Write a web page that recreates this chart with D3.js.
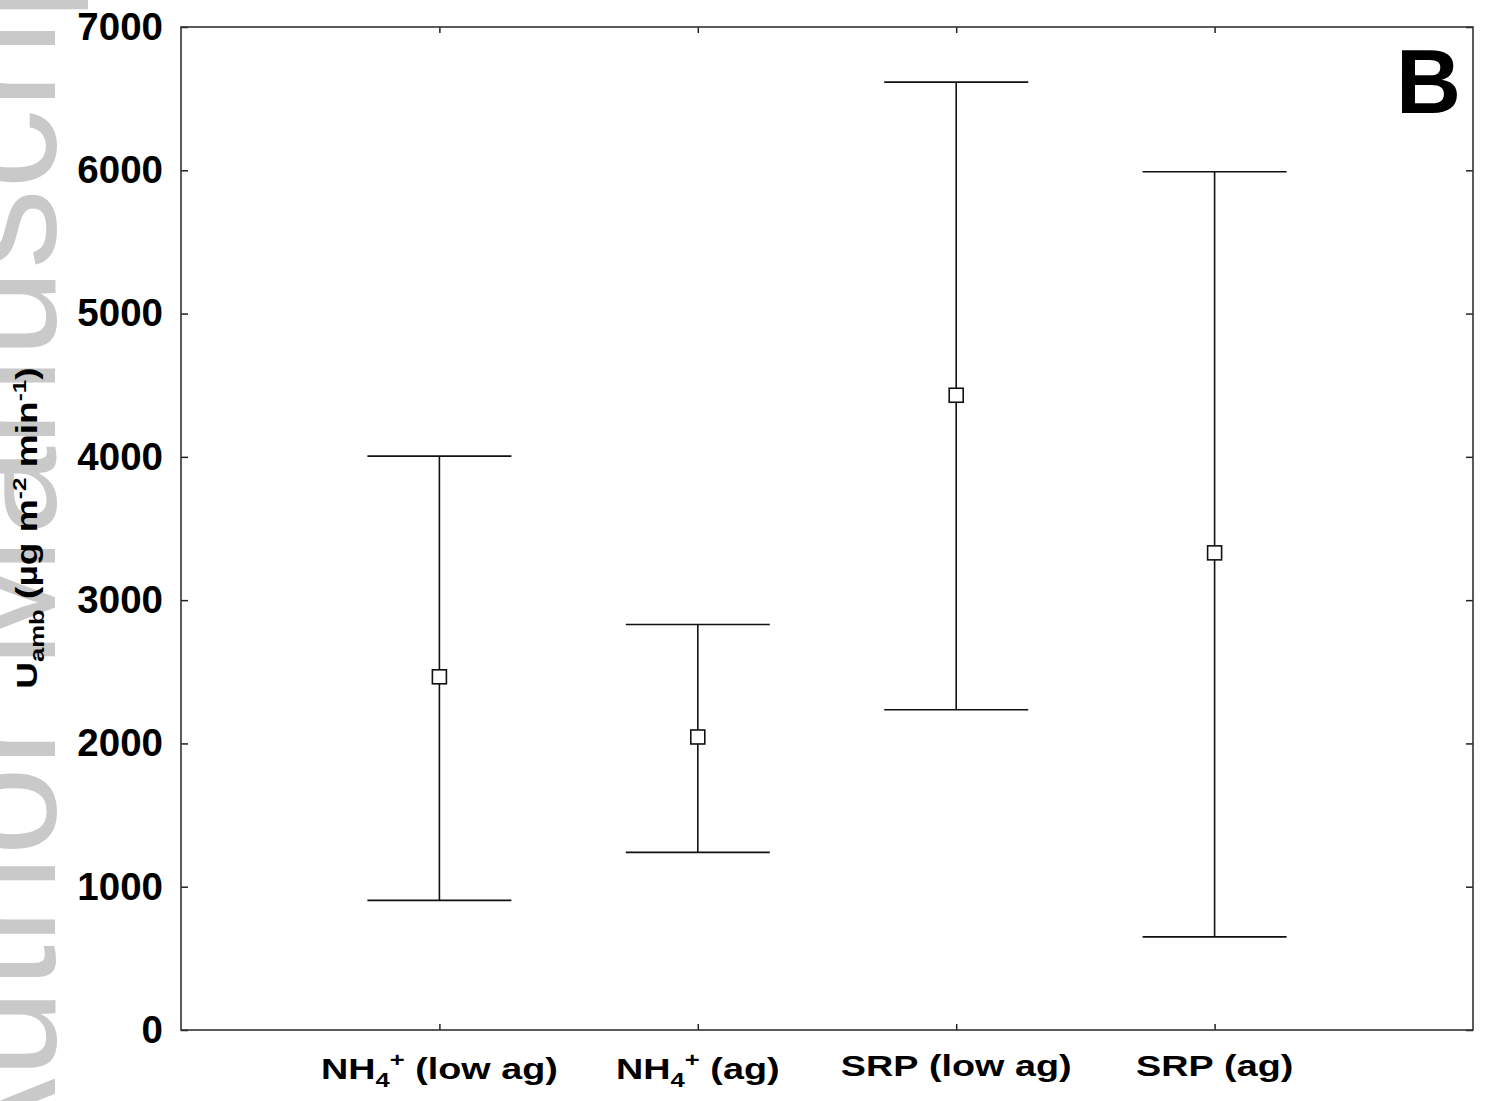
<!DOCTYPE html>
<html>
<head>
<meta charset="utf-8">
<script src="https://cdn.jsdelivr.net/npm/d3@7"></script>
<style>
  body { margin: 0; background: #fff; }
  svg { display: block; font-family: "Liberation Sans", Arial, sans-serif; }
</style>
</head>
<body>
<script>
// categories and their label pieces (base, subscript, superscript, rest)
var categories = ["NH4+ (low ag)", "NH4+ (ag)", "SRP (low ag)", "SRP (ag)"];
var labelBase = ["NH", "NH", "SRP", "SRP"];
var labelSub = ["4", "4", "", ""];
var labelSup = ["+", "+", "", ""];
var labelRest = [" (low ag)", " (ag)", " (low ag)", " (ag)"];

// means and error bar ends
var means = [2465, 2045, 4430, 3330];
var upper = [4005, 2830, 6615, 5990];
var lower = [905, 1240, 2235, 650];

var yTicks = [0, 1000, 2000, 3000, 4000, 5000, 6000, 7000];

var W = 1485, H = 1101;
// plot box (note: "top" is taken by window.top)
var padL = 181, padR = 1473, padT = 27, padB = 1030;

var svg = d3.select("body").append("svg")
    .attr("width", W)
    .attr("height", H);

// faint watermark on the left edge
svg.append("text")
    .attr("transform", "translate(55,1185) rotate(-90)")
    .attr("font-size", 160)
    .attr("fill", "#c9c9c9")
    .text("Author Manuscript");

var x = d3.scalePoint()
    .domain(categories)
    .range([padL, padR])
    .padding(1);

var y = d3.scaleLinear()
    .domain([0, 7000])
    .range([padB, padT]);

// left axis with labels, ticks pointing in
var gl = svg.append("g")
    .attr("transform", "translate(" + padL + ",0)")
    .call(d3.axisLeft(y).tickValues(yTicks).tickSize(-7).tickPadding(18).tickFormat(d3.format("d")));
gl.selectAll("text")
    .attr("font-size", 38.5)
    .attr("font-weight", "bold")
    .attr("fill", "#000")
    .attr("font-family", "Liberation Sans, Arial, sans-serif");

svg.append("g")
    .attr("transform", "translate(" + padR + ",0)")
    .call(d3.axisRight(y).tickValues(yTicks).tickSize(-7).tickFormat(""));

svg.append("g")
    .attr("transform", "translate(0," + padB + ")")
    .call(d3.axisBottom(x).tickSize(-6).tickFormat(""));

svg.append("g")
    .attr("transform", "translate(0," + padT + ")")
    .call(d3.axisTop(x).tickSize(-6).tickFormat(""));

svg.selectAll(".domain").remove();
svg.selectAll(".tick line").attr("stroke", "#222").attr("stroke-width", 1.5);

// frame
svg.append("rect")
    .attr("x", padL)
    .attr("y", padT)
    .attr("width", padR - padL)
    .attr("height", padB - padT)
    .attr("fill", "none")
    .attr("stroke", "#333")
    .attr("stroke-width", 1.6);

// category labels
categories.forEach(function(c, i) {
  var t = svg.append("text")
      .attr("transform", "translate(" + x(c) + "," + (labelSub[i] ? 1079 : 1076) + ") scale(1.28,1)")
      .attr("text-anchor", "middle")
      .attr("font-size", 29.5)
      .attr("font-weight", "bold")
      .attr("fill", "#000");
  t.append("tspan").text(labelBase[i]);
  if (labelSub[i]) {
    t.append("tspan").attr("font-size", 20).attr("dy", 8).text(labelSub[i]);
    t.append("tspan").attr("font-size", 20).attr("dy", -20).text(labelSup[i]);
    t.append("tspan").attr("dy", 12).text(labelRest[i]);
  } else {
    t.append("tspan").text(labelRest[i]);
  }
});

// y title
var yt = svg.append("text")
    .attr("transform", "translate(37,528) rotate(-90) scale(1.28,1)")
    .attr("text-anchor", "middle")
    .attr("font-size", 29)
    .attr("font-weight", "bold")
    .attr("fill", "#000");
yt.append("tspan").text("U");
yt.append("tspan").attr("font-size", 20).attr("dy", 7).text("amb");
yt.append("tspan").attr("dy", -7).text(" (µg m");
yt.append("tspan").attr("font-size", 19).attr("dy", -11).text("-2");
yt.append("tspan").attr("dy", 11).text(" min");
yt.append("tspan").attr("font-size", 19).attr("dy", -11).text("-1");
yt.append("tspan").attr("dy", 11).text(")");

// panel letter
svg.append("text")
    .attr("x", 1396)
    .attr("y", 113)
    .attr("font-size", 90)
    .attr("font-weight", "bold")
    .attr("fill", "#000")
    .text("B");

// error bars
var cap = 72;
var bars = svg.append("g").attr("stroke", "#111").attr("stroke-width", 1.6);
categories.forEach(function(c, i) {
  bars.append("line")
      .attr("x1", x(c)).attr("x2", x(c))
      .attr("y1", y(upper[i])).attr("y2", y(lower[i]));
  bars.append("line")
      .attr("x1", x(c) - cap).attr("x2", x(c) + cap)
      .attr("y1", y(upper[i])).attr("y2", y(upper[i]));
  bars.append("line")
      .attr("x1", x(c) - cap).attr("x2", x(c) + cap)
      .attr("y1", y(lower[i])).attr("y2", y(lower[i]));
});

// mean markers
var sq = 14;
svg.selectAll("rect.mean")
    .data(categories)
    .enter().append("rect")
    .attr("class", "mean")
    .attr("x", function(d) { return x(d) - sq / 2; })
    .attr("y", function(d, i) { return y(means[i]) - sq / 2; })
    .attr("width", sq)
    .attr("height", sq)
    .attr("fill", "#fff")
    .attr("stroke", "#111")
    .attr("stroke-width", 1.6);
</script>
</body>
</html>
